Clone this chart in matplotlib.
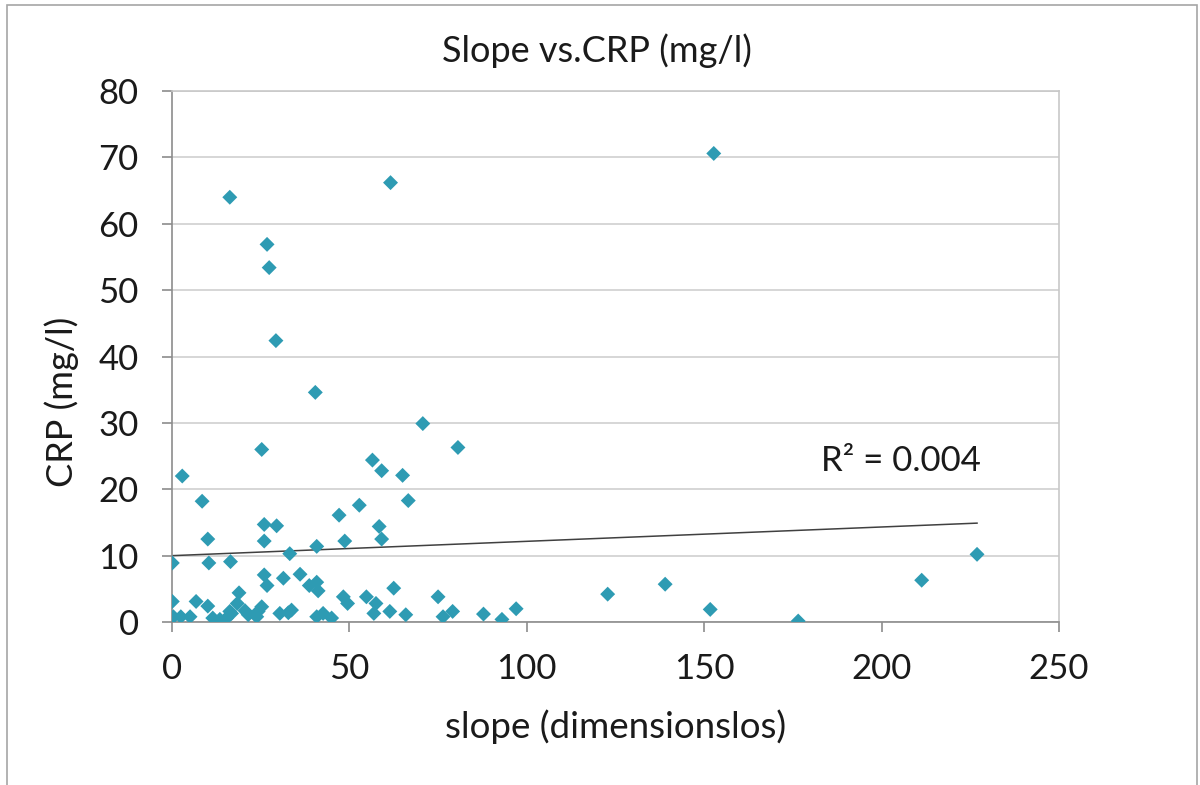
import matplotlib
matplotlib.use("Agg")
import matplotlib.pyplot as plt
from matplotlib.patches import Rectangle
import numpy as np

# slope (dimensionless) and CRP (mg/l)
slope = [16.3, 152.7, 61.6, 26.8, 27.4, 29.3, 40.4, 70.7, 80.6, 25.3,
         56.5, 59.1, 65.0, 2.9, 8.5, 66.6, 52.8, 47.1, 26.0, 29.5,
         58.4, 10.1, 26.0, 48.7, 59.1, 40.8, 33.2, 226.9, 0.1, 10.4,
         16.5, 26.0, 26.8, 31.4, 36.1, 38.7, 40.8, 41.2, 18.9, 18.4,
         0.1, 6.8, 10.1, 16.3, 20.6, 25.3, 0.4, 2.5, 5.1, 11.5,
         13.5, 15.4, 16.8, 21.5, 23.9, 24.3, 30.4, 32.8, 33.7, 40.8,
         42.6, 45.0, 48.3, 49.5, 54.8, 57.5, 56.9, 62.5, 75.0, 61.4,
         65.9, 76.4, 79.1, 87.8, 93.0, 97.0, 122.8, 139.0, 151.7, 176.5,
         211.3]
crp = [64.0, 70.6, 66.2, 56.9, 53.4, 42.4, 34.6, 29.9, 26.3, 26.0,
       24.4, 22.8, 22.1, 22.0, 18.2, 18.3, 17.6, 16.1, 14.7, 14.5,
       14.4, 12.5, 12.2, 12.2, 12.5, 11.4, 10.3, 10.2, 8.9, 8.9,
       9.1, 7.1, 5.5, 6.6, 7.2, 5.5, 6.0, 4.7, 4.4, 2.8,
       3.1, 3.1, 2.4, 1.6, 1.7, 2.3, 0.8, 0.8, 0.8, 0.6,
       0.4, 0.6, 1.3, 1.1, 0.8, 1.6, 1.3, 1.4, 1.8, 0.8,
       1.3, 0.6, 3.8, 2.8, 3.8, 2.8, 1.3, 5.1, 3.8, 1.6,
       1.1, 0.8, 1.6, 1.2, 0.4, 2.0, 4.2, 5.7, 1.9, 0.15,
       6.3]

# linear trend line as drawn in the chart
trend_intercept = 10.0
trend_slope = 0.0216
r2_label = "R² = 0.004"

plt.rcParams["font.family"] = ["Lato", "DejaVu Sans"]

fig = plt.figure(figsize=(12, 7.85), dpi=100)
fig.patch.set_facecolor("white")
fig.patches.append(Rectangle((7 / 1200, -0.01), 1190 / 1200, 1 - 5 / 785 + 0.01,
                             transform=fig.transFigure, fill=False,
                             edgecolor="#a6a6a6", linewidth=1.2))

ax = fig.add_axes([0.1433, 0.2076, 0.7392, 0.6764])

x_fit = np.array([min(slope), max(slope)])
ax.plot(x_fit, trend_intercept + trend_slope * x_fit, color="#404040", linewidth=1.1, zorder=2)
ax.scatter(slope, crp, marker="D", s=58, color="#2e9bb3", edgecolors="none", zorder=3)

ax.set_xlim(0, 250)
ax.set_ylim(0, 80)
ax.set_xticks(range(0, 251, 50))
ax.set_yticks(range(0, 81, 10))
ax.yaxis.grid(True, color="#d0d0d0", linewidth=1.2)
ax.set_axisbelow(True)
for side in ["top", "right"]:
    ax.spines[side].set_color("#c8c8c8")
    ax.spines[side].set_linewidth(1.2)
for side in ["left", "bottom"]:
    ax.spines[side].set_color("#8c8c8c")
    ax.spines[side].set_linewidth(1.2)
ax.tick_params(axis="both", labelsize=25, colors="#8c8c8c", labelcolor="#1a1a1a",
               length=7, width=1.2)
ax.tick_params(axis="y", pad=17)
ax.tick_params(axis="x", pad=15)

fig.text(0.4975, 0.936, "Slope vs.CRP (mg/l)", fontsize=26, color="#1a1a1a",
         ha="center", va="center")
fig.text(0.513, 0.074, "slope (dimensionslos)", fontsize=26.5, color="#1a1a1a",
         ha="center", va="center")
fig.text(62 / 1200, 1 - 402 / 785, "CRP (mg/l)", fontsize=26, color="#1a1a1a",
         ha="center", va="center", rotation=90)

ax.text(183, 24.2, r2_label, fontsize=25, color="#1a1a1a", ha="left", va="center")

fig.savefig("out.png", dpi=100, facecolor=fig.get_facecolor())
